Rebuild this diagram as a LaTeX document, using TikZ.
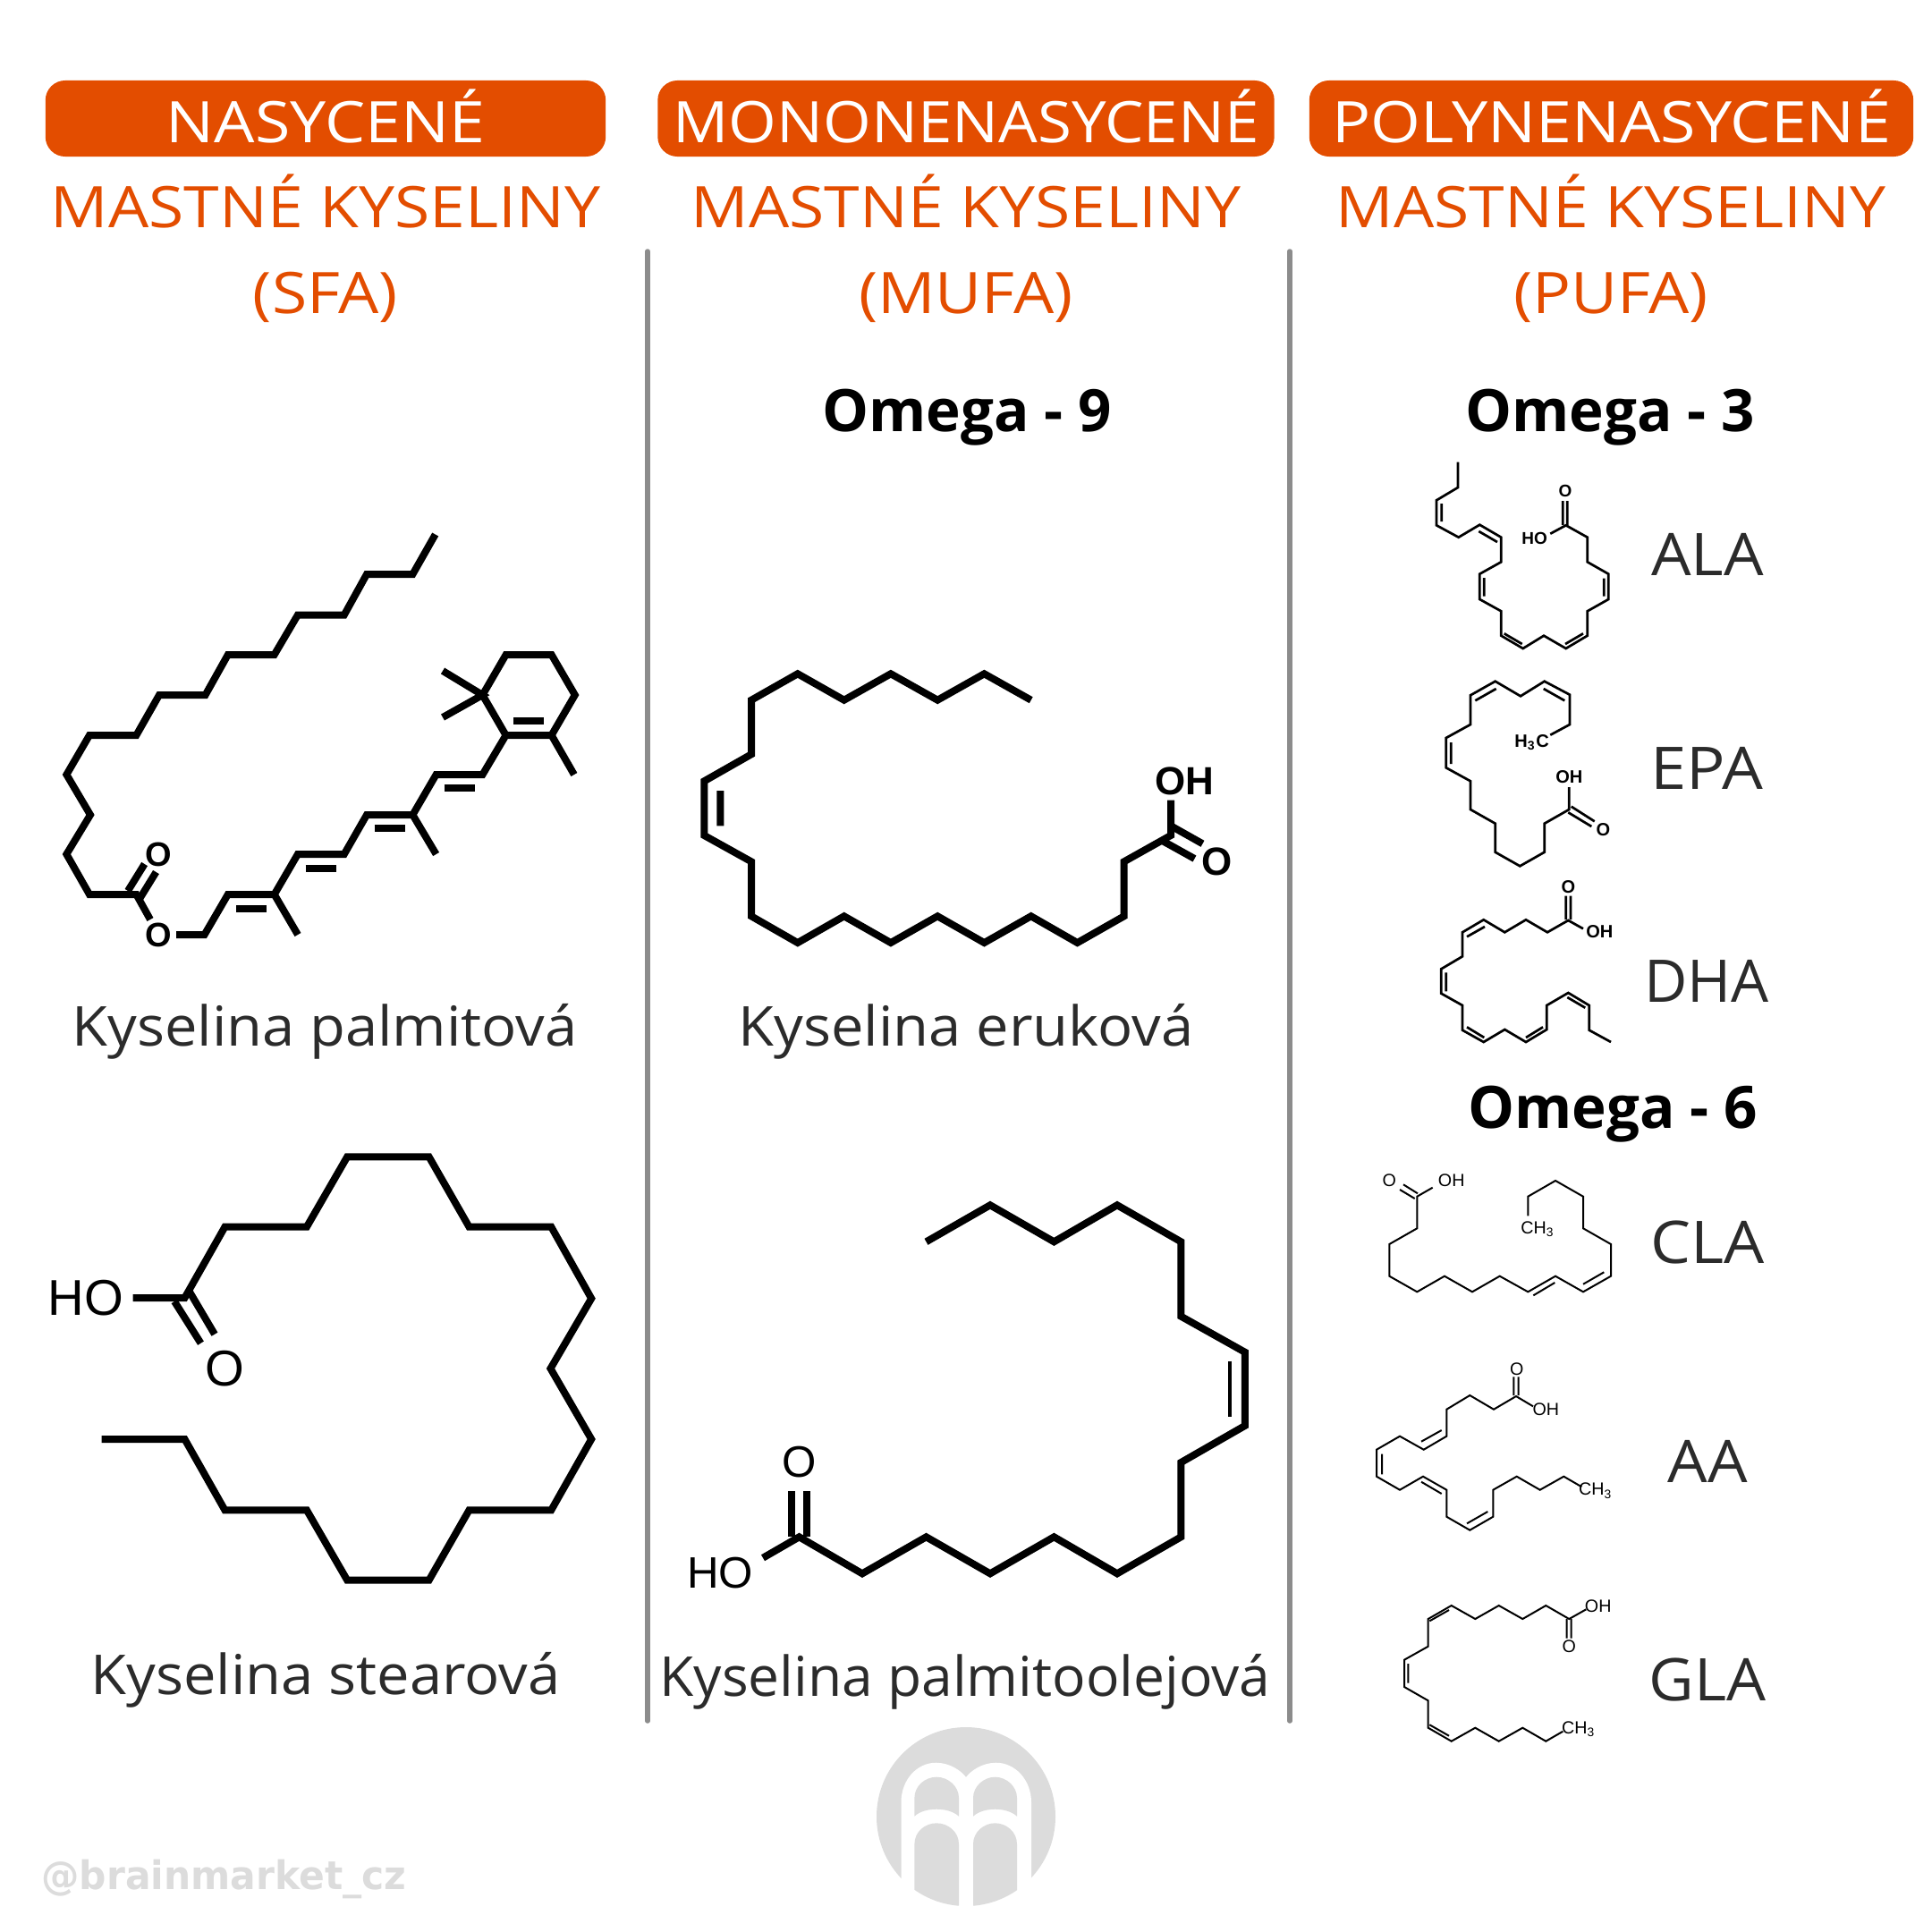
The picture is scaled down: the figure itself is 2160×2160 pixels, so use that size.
\documentclass[tikz,border=0pt]{standalone}
\usepackage{fontspec}
\setmainfont{Open Sans}
\newfontfamily\chemfont{Liberation Sans}
\newfontfamily\markfont[FakeStretch=0.965]{DejaVu Sans}
\usepackage{tikz}
\definecolor{brainorange}{HTML}{E34D00}
\definecolor{darktext}{HTML}{2B2B2B}
\definecolor{logogray}{HTML}{DCDCDC}
\definecolor{rulegray}{HTML}{8C8C8C}

\begin{document}
\begin{tikzpicture}[x = 0.01cm, y = -0.01cm,
  headbox/.style={fill = brainorange, text = white, rounded corners = 0.22cm, minimum height = 0.85cm, inner sep = 0pt, text height = 0.53cm, text depth = 0cm, font = \fontsize{18.2}{18.2}\selectfont\addfontfeature{FakeStretch=#1}},
  headbox/.default = 1.12,
  headline/.style={anchor = base, text = brainorange, inner sep = 0pt, font = \fontsize{18.2}{18.2}\selectfont\addfontfeature{FakeStretch=1.116}},
  omega/.style={anchor = base, inner sep = 0pt, font = \fontsize{18.6}{18.6}\selectfont\bfseries},
  acid/.style={anchor = base, text = darktext, inner sep = 0pt, font = \fontsize{17.5}{17.5}\selectfont\addfontfeature{FakeStretch=#1}},
  acid/.default = 1.057,
  short/.style={anchor = base, text = darktext, inner sep = 0pt, font = \fontsize{18.7}{18.7}\selectfont\addfontfeature{FakeStretch=#1}},
  short/.default = 1.07,
  divider/.style={draw = rulegray, line width = 0.055cm, line cap = round},
  bond/.style={line width = 0.08cm},
  thinbond/.style={line width = 0.027cm},
  hairbond/.style={line width = 0.02cm},
  atom/.style={inner sep = 0pt, font = \chemfont\fontsize{14}{14}\selectfont},
  boldatom/.style={inner sep = 0pt, font = \chemfont\bfseries\fontsize{10.8}{10.8}\selectfont},
  tinyatom/.style={inner sep = 0pt, font = \chemfont\bfseries\fontsize{5.7}{5.7}\selectfont},
  hairatom/.style={inner sep = 0pt, font = \chemfont\fontsize{5.6}{5.6}\selectfont}]
  \useasboundingbox (0,0) rectangle (2160,2160);

  % headers
  \node [headbox, minimum width = 6.26cm] at (364,132.5) (sfabox) {NASYCENÉ};
  \node [headbox = 1.078, minimum width = 6.89cm] at (1080,132.5) (mufabox) {MONONENASYCENÉ};
  \node [headbox, minimum width = 6.75cm] at (1801.5,132.5) (pufabox) {POLYNENASYCENÉ};
  \node [headline] at (364,254) (sfaone) {MASTNÉ KYSELINY};
  \node [headline] at (1080,254) (mufaone) {MASTNÉ KYSELINY};
  \node [headline] at (1801,254) (pufaone) {MASTNÉ KYSELINY};
  \node [headline] at (364,350) (sfatwo) {(SFA)};
  \node [headline] at (1080,350) (mufatwo) {(MUFA)};
  \node [headline] at (1801,350) (pufatwo) {(PUFA)};

  % dividers
  \draw [divider] (724,281) -- (724,1924);
  \draw [divider] (1442,281) -- (1442,1924);

  % labels
  \node [omega] at (1081,482) (omeganine) {Omega - 9};
  \node [omega] at (1800,482) (omegathree) {Omega - 3};
  \node [omega] at (1803,1261.5) (omegasix) {Omega - 6};
  \node [acid] at (363,1169) (palmitic) {Kyselina palmitová};
  \node [acid] at (1080,1169) (erucic) {Kyselina eruková};
  \node [acid] at (364,1894) (stearic) {Kyselina stearová};
  \node [acid = 1.012] at (1079,1896.5) (palmitoleic) {Kyselina palmitoolejová};
  \node [short] at (1909,643) (ala) {ALA};
  \node [short = 1.1] at (1908,882) (epa) {EPA};
  \node [short = 1.01] at (1908,1120) (dha) {DHA};
  \node [short = 1.085] at (1909,1412) (cla) {CLA};
  \node [short] at (1909,1657) (aa) {AA};
  \node [short = 1.057] at (1909,1901) (gla) {GLA};

  % retinyl palmitate
  \draw [bond] (486.7,597.5) -- (461.4,642) -- (410,642) -- (384.8,687.5) -- (332.9,687.5) -- (306.7,732) -- (254.8,732) -- (229.6,777) -- (178,777) -- (152.4,822) -- (100,822) -- (74.4,866) -- (101,911) -- (74.4,955) -- (100,1000) -- (152.4,1000) -- (168,1028);
  \draw [bond] (143,996) -- (161.6,966) (156,1005) -- (174.5,975);
  \draw [bond] (197,1045) -- (228.6,1045) -- (254.8,1000) -- (306.7,1000) -- (333,1045);
  \draw [bond] (306.7,1000) -- (332.9,955) -- (384.8,955) -- (410,911) -- (461.4,911) -- (487.6,955);
  \draw [bond] (461.4,911) -- (487.6,866) -- (539.5,866) -- (565.6,822) -- (616.6,822) -- (641.9,866);
  \draw [bond] (565.6,822) -- (539.5,777) -- (565.6,732) -- (616.6,732) -- (642.8,777) -- (616.6,822);
  \draw [bond] (495,750) -- (539.5,777) -- (495,802);
  \draw [bond] (264,1015.7) -- (298.4,1015.7) (341.6,971) -- (375.6,971) (418.7,926.4) -- (453.2,926.4) (496.8,881.4) -- (530.8,881.4) (574,805.7) -- (607.9,805.7);
  \node [boldatom] at (177,955) (palmo) {O};
  \node [boldatom] at (177,1045) (palmoo) {O};

  % erucic acid
  \draw [bond] (1152.7,782.7) -- (1100.4,753.3) -- (1048.2,782.7) -- (995.9,753.3) -- (943.7,782.7) -- (891.8,753.3) -- (840,782.7) -- (840,843.3) -- (787.3,873.3) -- (787.3,934) -- (840,963.3) -- (840,1024.3) -- (891.8,1054) -- (943.7,1024.3) -- (995.9,1054) -- (1048.2,1024.3) -- (1100.4,1054) -- (1152.7,1024.3) -- (1204.5,1054) -- (1256.7,1024.3) -- (1256.7,963.3) -- (1309,934) -- (1309,894.7);
  \draw [bond] (805.3,884) -- (805.3,923.3) (1309,923.3) -- (1344.5,943.3) (1300.8,940.7) -- (1335.5,960);
  \node [boldatom, font = \chemfont\bfseries\fontsize{12.5}{12.5}\selectfont] at (1324.5,873.3) (erucoh) {OH};
  \node [boldatom, font = \chemfont\bfseries\fontsize{12.5}{12.5}\selectfont] at (1361,963.3) (eruco) {O};

  % stearic acid
  \draw [bond] (113.5,1609) -- (206.5,1609) -- (251.4,1688.3) -- (342.9,1688.3) -- (388.2,1766.7) -- (479.6,1766.7) -- (524.5,1688.3) -- (616.3,1688.3) -- (661.2,1609) -- (615.5,1530) -- (661.2,1451.7) -- (616.3,1371.7) -- (524.5,1371.7) -- (479.6,1293.3) -- (388.2,1293.3) -- (342.9,1371.7) -- (251.4,1371.7) -- (206.5,1451) -- (148.6,1451);
  \draw [bond] (195,1455) -- (224.5,1501.7) (211.4,1443.3) -- (240,1491.7);
  \node [atom, font = \chemfont\fontsize{16}{16}\selectfont] at (96,1451) (stearho) {HO};
  \node [atom, font = \chemfont\fontsize{16}{16}\selectfont] at (251,1530) (stearo) {O};

  % palmitoleic acid
  \draw [bond] (1035.5,1388.3) -- (1107,1347.3) -- (1178.4,1388.3) -- (1249,1347.3) -- (1320.4,1388.3) -- (1320.4,1471.7) -- (1391.8,1511.7) -- (1391.8,1594) -- (1320.4,1635) -- (1320.4,1718.3) -- (1249,1759.3) -- (1178.4,1718.3) -- (1107,1759.3) -- (1035.5,1718.3) -- (964,1759.3) -- (893.5,1718.3) -- (853,1741.7);
  \draw [bond] (885.3,1718) -- (885.3,1666.7) (901.6,1718) -- (901.6,1666.7);
  \draw [line width = 0.04cm] (1375,1521.7) -- (1375,1584.3);
  \node [atom] at (893.5,1635) (palmito) {O};
  \node [atom] at (805,1758.3) (palmitho) {HO};

  % ALA
  \draw [thinbond] (1630,516.7) -- (1630,545) -- (1606,559.3) -- (1606,587.3) -- (1630.7,600.7) -- (1654.3,586.7) -- (1678.3,600.7) -- (1678.3,628.3) -- (1654.3,641.7) -- (1654.3,670) -- (1678.3,683.3) -- (1678.3,710.7) -- (1702.7,725) -- (1726,710.7) -- (1750.7,725) -- (1774.7,710.7) -- (1774.7,683.3) -- (1798.3,670) -- (1798.3,641.7) -- (1774.7,628.3) -- (1774.7,600.7) -- (1750.7,587.3) -- (1733.3,596.7);
  \draw [thinbond] (1747.3,587) -- (1747.3,560) (1752.3,587) -- (1752.3,560) (1611.7,563) -- (1611.7,583) (1653.3,594) -- (1674,606) (1659.3,646) -- (1659.3,666.7) (1681.7,708.3) -- (1701.7,720) (1750,720) -- (1770,708.3) (1793.3,646.7) -- (1793.3,666.7);
  \node [tinyatom, font = \chemfont\bfseries\fontsize{5.4}{5.4}\selectfont] at (1750,549.3) (alao) {O};
  \node [tinyatom, font = \chemfont\bfseries\fontsize{5.4}{5.4}\selectfont] at (1715.7,601.7) (alaho) {HO};

  % EPA
  \draw [thinbond] (1733.3,821.7) -- (1755,810) -- (1755,776.7) -- (1726.7,761.7) -- (1700,778.3) -- (1671.7,761.7) -- (1644,777.3) -- (1644,810) -- (1616.7,825) -- (1616.7,858.3) -- (1644,873.3) -- (1644,905) -- (1671.7,920.7) -- (1671.7,952.7) -- (1699.3,968.3) -- (1726.7,952.7) -- (1726.7,920.7) -- (1754.3,905) -- (1754.3,880);
  \draw [thinbond] (1756.7,901.7) -- (1782.7,918.3) (1753.3,908.3) -- (1779.3,924) (1649.3,783.3) -- (1672.7,770) (1725.7,770) -- (1749.3,783.3) (1622.3,830) -- (1622.3,854);
  \node [tinyatom] at (1712.7,830) (epahc) {H\textsubscript{3}C};
  \node [tinyatom] at (1754.3,868.3) (epaoh) {OH};
  \node [tinyatom] at (1792.3,927.3) (epao) {O};

  % DHA
  \draw [thinbond] (1770,1038.3) -- (1753.3,1029) -- (1730,1042.3) -- (1706,1028.3) -- (1682.3,1042.3) -- (1658.7,1028.3) -- (1635,1042.3) -- (1635,1069.3) -- (1611.3,1083.3) -- (1611.3,1110.7) -- (1635,1124) -- (1635,1151.7) -- (1658.7,1165) -- (1682.3,1151) -- (1706,1165) -- (1729.3,1151) -- (1729.3,1124) -- (1753.3,1110) -- (1776.7,1124) -- (1776.7,1151.7) -- (1801,1165);
  \draw [thinbond] (1750.7,1028) -- (1750.7,1001.7) (1756,1028) -- (1756,1001.7) (1640,1047.3) -- (1660,1036) (1616.7,1087.3) -- (1616.7,1108.3) (1640,1148.3) -- (1659.3,1160) (1706,1160) -- (1725,1148.3) (1752.3,1115) -- (1772.3,1126.7);
  \node [tinyatom] at (1753.3,991.7) (dhao) {O};
  \node [tinyatom] at (1788.3,1041.7) (dhaoh) {OH};

  % CLA
  \draw [hairbond] (1601.7,1327.7) -- (1584.3,1337.7) -- (1584.3,1373.3) -- (1553.3,1391) -- (1553.3,1426.7) -- (1584.3,1444.3) -- (1615,1426.7) -- (1646,1444.3) -- (1676.7,1426.7) -- (1708.3,1444.3) -- (1739,1426.7) -- (1770,1444.3) -- (1801,1426.7) -- (1801,1391) -- (1770,1373.3) -- (1770,1337.7) -- (1739,1320) -- (1708.3,1337.7) -- (1708.3,1359.3);
  \draw [hairbond] (1565,1330) -- (1581.7,1340) (1569,1324.3) -- (1585,1334.3) (1714.3,1448.3) -- (1738.3,1434) (1770,1435.7) -- (1793.3,1422.3);
  \node [hairatom] at (1553.3,1320) (clao) {O};
  \node [hairatom] at (1622.7,1320) (claoh) {OH};
  \node [hairatom] at (1719.3,1374.3) (clach) {CH\textsubscript{3}};

  % AA
  \draw [hairbond] (1714,1572.3) -- (1695,1561) -- (1670,1575.7) -- (1643.3,1560) -- (1617.3,1575.7) -- (1617.3,1605.7) -- (1591.7,1620.7) -- (1565,1605.7) -- (1539,1620.7) -- (1539,1650.7) -- (1565,1665.7) -- (1591,1650.7) -- (1617.3,1665.7) -- (1617.3,1695.7) -- (1643.3,1710.7) -- (1669.3,1695.7) -- (1669.3,1665.7) -- (1695.7,1650.7) -- (1721.7,1665.7) -- (1748.3,1650.7) -- (1768.3,1662.3);
  \draw [hairbond] (1692.3,1560) -- (1692.3,1539.3) (1697.7,1560) -- (1697.7,1539.3) (1589,1611.7) -- (1611.7,1599) (1545,1625.7) -- (1545,1648.3) (1589,1656.7) -- (1611.7,1670) (1640,1703.3) -- (1663.3,1690);
  \node [hairatom] at (1695.7,1530.7) (aao) {O};
  \node [hairatom] at (1728.3,1576) (aaoh) {OH};
  \node [hairatom] at (1784,1666.7) (aach) {CH\textsubscript{3}};

  % GLA
  \draw [hairbond] (1773.3,1799.3) -- (1754.3,1810) -- (1728.3,1795) -- (1702.3,1810) -- (1675.7,1795) -- (1649.3,1810) -- (1622.7,1795) -- (1596.7,1810) -- (1596.7,1840.7) -- (1570,1855.7) -- (1570,1886) -- (1596.7,1901.3) -- (1596.7,1931.7) -- (1622.7,1946.7) -- (1649.3,1931.7) -- (1675.7,1946.7) -- (1702.3,1931.7) -- (1728.3,1946.7) -- (1747.3,1935.7);
  \draw [hairbond] (1751.7,1810) -- (1751.7,1831.7) (1756.7,1810) -- (1756.7,1831.7) (1598.3,1812.3) -- (1620,1800) (1574.3,1860) -- (1574.3,1881.7) (1598.3,1928.3) -- (1620,1940.7);
  \node [hairatom] at (1786.7,1795.7) (glaoh) {OH};
  \node [hairatom] at (1754.3,1841) (glao) {O};
  \node [hairatom] at (1765,1933.3) (glach) {CH\textsubscript{3}};

  % logo and handle
  \fill [logogray] (1080,2031) circle (100);
  \fill [white] (1007.5,2140) -- (1007.5,2015) .. controls (1007.5,1990) and (1025,1970.7) .. (1046.5,1970.7) .. controls (1062,1970.7) and (1075,1980) .. (1080,1987) .. controls (1085,1980) and (1098,1970.7) .. (1113.5,1970.7) .. controls (1135,1970.7) and (1153,1990) .. (1153,2015) -- (1153,2140) -- cycle;
  \fill [logogray] (1022.4,2030.7) -- (1022.4,2010) .. controls (1022.4,1997) and (1034,1986.7) .. (1047,1986.7) .. controls (1060,1986.7) and (1072,1997) .. (1072,2010) -- (1072,2030.7) .. controls (1066,2025) and (1056,2022.7) .. (1047,2022.7) .. controls (1038,2022.7) and (1028,2025) .. (1022.4,2030.7) -- cycle;
  \fill [logogray] (1088,2030.7) -- (1088,2010) .. controls (1088,1997) and (1100,1986.7) .. (1112.5,1986.7) .. controls (1125,1986.7) and (1137,1997) .. (1137,2010) -- (1137,2030.7) .. controls (1131,2025) and (1121,2022.7) .. (1112.5,2022.7) .. controls (1104,2022.7) and (1094,2025) .. (1088,2030.7) -- cycle;
  \begin{scope}
    \clip (1080,2031) circle (100);
    \fill [logogray] (1022.4,2140) -- (1022.4,2061.7) .. controls (1022.4,2048) and (1034,2038.3) .. (1047,2038.3) .. controls (1060,2038.3) and (1072,2048) .. (1072,2061.7) -- (1072,2140) -- cycle;
    \fill [logogray] (1088,2140) -- (1088,2061.7) .. controls (1088,2048) and (1100,2038.3) .. (1112.5,2038.3) .. controls (1125,2038.3) and (1137,2048) .. (1137,2061.7) -- (1137,2140) -- cycle;
  \end{scope}
  \node [anchor = base west, inner sep = 0pt, text = logogray, font = \markfont\bfseries\fontsize{12.5}{12.5}\selectfont] at (45.6,2112.7) (handle) {@brainmarket\_cz};
\end{tikzpicture}
\end{document}
